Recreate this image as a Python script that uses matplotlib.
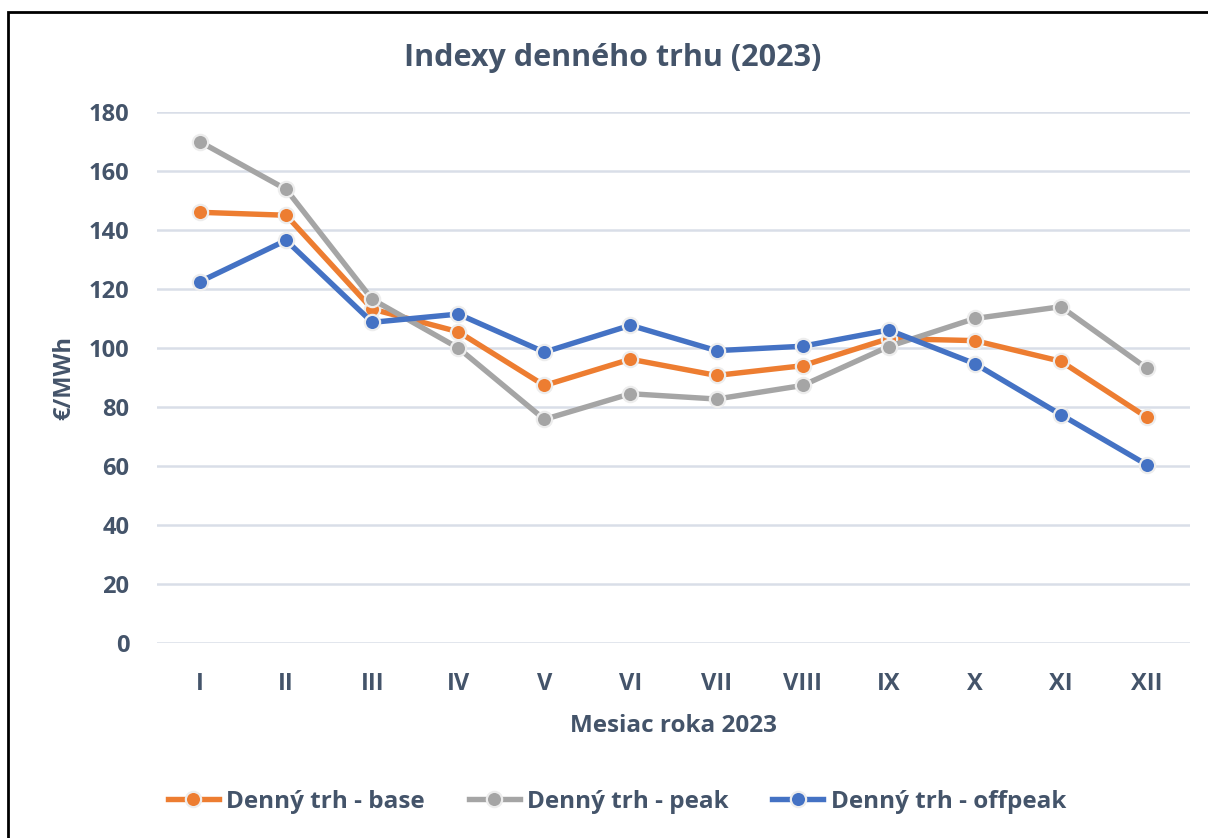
import numpy as np
import matplotlib.pyplot as plt
from matplotlib.patches import Rectangle

#data
months = ['I', 'II', 'III', 'IV', 'V', 'VI', 'VII', 'VIII', 'IX', 'X', 'XI', 'XII']
base = [146.0, 145.0, 113.2, 105.5, 87.3, 96.2, 90.7, 94.0, 103.2, 102.5, 95.5, 76.5]
peak = [169.9, 153.8, 116.5, 100.0, 75.8, 84.5, 82.7, 87.3, 100.5, 110.0, 114.0, 93.1]
offpeak = [122.5, 136.5, 108.7, 111.5, 98.6, 107.7, 99.1, 100.6, 106.1, 94.7, 77.4, 60.4]

series_names = ['Denný trh - base', 'Denný trh - peak', 'Denný trh - offpeak']
series_colors = ['#ED7D31', '#A5A5A5', '#4472C4']

txt_color = '#44546A'
plt.rcParams['font.family'] = ['Open Sans', 'DejaVu Sans']

fig = plt.figure(figsize=(12.08, 8.38), dpi=100)
ax = fig.add_axes([157 / 1208, 1 - 643 / 838, (1190 - 157) / 1208, (643 - 112) / 838])

x = np.arange(len(months))
for vals, name, col in zip([base, peak, offpeak], series_names, series_colors):
    ax.plot(x, vals, color=col, lw=3.9, marker='o', ms=11,
            mfc=col, mec='#EDEDED', mew=1.6, label=name, zorder=3)

ax.set_ylim(0, 180)
ax.set_yticks(range(0, 181, 20))
ax.set_xlim(-0.5, 11.5)
ax.set_xticks(x)
ax.set_xticklabels(months)
ax.grid(axis='y', color='#D9DEE8', lw=1.8, zorder=0)
for s in ax.spines.values():
    s.set_visible(False)
ax.tick_params(length=0, colors=txt_color, labelsize=17)
for lab in ax.get_xticklabels() + ax.get_yticklabels():
    lab.set_fontweight('bold')
ax.tick_params(axis='y', pad=20)
ax.tick_params(axis='x', pad=21)

ax.set_ylabel('€/MWh', color=txt_color, fontsize=17, fontweight='bold', labelpad=9)
ax.set_xlabel('Mesiac roka 2023', color=txt_color, fontsize=17.5, fontweight='bold', labelpad=13)

fig.text(613 / 1208, 1 - 58 / 838, 'Indexy denného trhu (2023)', ha='center', va='center',
         color=txt_color, fontsize=22, fontweight='bold')

leg = fig.legend(loc='center', bbox_to_anchor=(617 / 1208, 1 - 802 / 838), ncol=3,
                 frameon=False, fontsize=17.5, handlelength=2.1, columnspacing=1.8,
                 handletextpad=0.3)
for t in leg.get_texts():
    t.set_color(txt_color)
    t.set_fontweight('bold')

#outer frame (only top and left visible)
fig.patches.append(Rectangle((8 / 1208, -0.1), 1.2, 1 - 12 / 838 + 0.1,
                             transform=fig.transFigure, fill=False,
                             ec='black', lw=2))

fig.savefig('out.png', dpi=100)
